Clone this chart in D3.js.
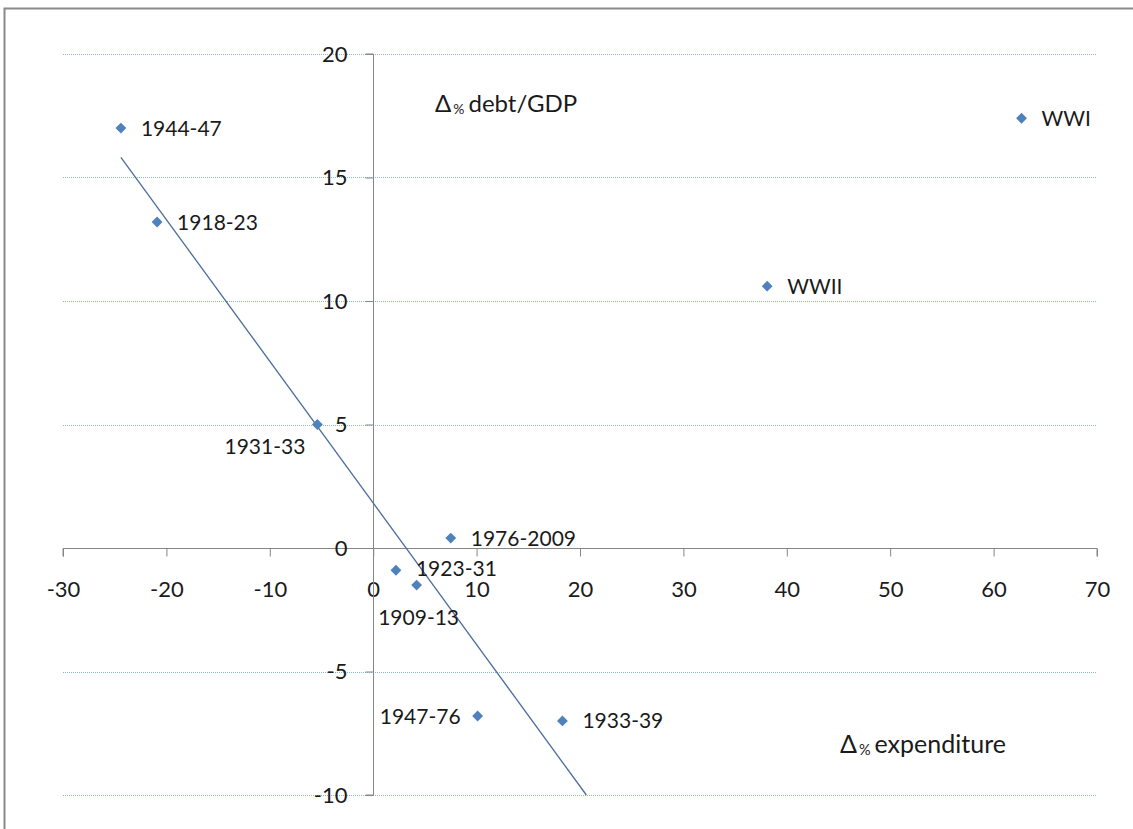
<!DOCTYPE html>
<html>
<head>
<meta charset="utf-8">
<script src="https://cdn.jsdelivr.net/npm/d3@7"></script>
<style>
  html, body { margin: 0; padding: 0; background: #fff; }
  svg { display: block; }
  text { font-family: Lato, "Open Sans", sans-serif; fill: #1a1a1a; }
</style>
</head>
<body>
<svg id="chart" width="1133" height="829"></svg>
<script>
// ---- data ----
const periods = ["1944-47", "1918-23", "1931-33", "1976-2009", "1923-31", "1909-13", "1947-76", "1933-39", "WWII", "WWI"];
const expenditureChange = [-24.4, -20.9, -5.4, 7.5, 2.2, 4.2, 10.1, 18.3, 38.1, 62.7];
const debtGdpChange = [17.0, 13.2, 5.0, 0.4, -0.9, -1.5, -6.8, -7.0, 10.6, 17.4];
const inTrend = [true, true, true, true, true, true, true, true, false, false];
const labelSide = ["right", "right", "belowLeft", "right", "rightUp", "below", "left", "right", "right", "right"];
const xTicks = [-30, -20, -10, 0, 10, 20, 30, 40, 50, 60, 70];
const yTicks = [-10, -5, 0, 5, 10, 15, 20];

// ---- layout ----
const svg = d3.select("#chart");
const x = d3.scaleLinear().domain([-30, 70]).range([63, 1097]);
const y = d3.scaleLinear().domain([-10, 20]).range([795, 54]);

// frame
svg.append("rect").attr("x", 4.5).attr("y", 8.5).attr("width", 1140).attr("height", 840)
  .attr("fill", "none").attr("stroke", "#8a8a8a").attr("stroke-width", 2);

// gridlines
svg.append("g").selectAll("line").data(yTicks.filter(d => d !== 0)).join("line")
  .attr("x1", x(-30)).attr("x2", x(70))
  .attr("y1", d => Math.round(y(d)) + 0.5).attr("y2", d => Math.round(y(d)) + 0.5)
  .attr("stroke", "#8db3e2").attr("stroke-width", 1).attr("stroke-dasharray", "1,1");

const fmt = d => String(d);

// x axis at y=0
const xAxis = d3.axisBottom(x).tickValues(xTicks).tickSize(8).tickPadding(31).tickFormat(fmt);
const gx = svg.append("g").attr("transform", `translate(0,${Math.round(y(0)) + 0.5})`).call(xAxis);
gx.select(".domain").attr("stroke", "#868686").attr("d", `M${x(-30)},8V0H${x(70)}V8`);
gx.selectAll(".tick line").attr("stroke", "#868686");
gx.selectAll(".tick text").attr("font-size", 22).attr("font-family", "Lato, sans-serif").attr("fill", "#1a1a1a").attr("dy", "0.45em");

// y axis at x=0
const yAxis = d3.axisLeft(y).tickValues(yTicks).tickSize(8).tickPadding(18).tickFormat(fmt);
const gy = svg.append("g").attr("transform", `translate(${Math.round(x(0)) + 0.5},0)`).call(yAxis);
gy.select(".domain").attr("stroke", "#868686").attr("d", `M-8,${y(20)}H0V${y(-10)}H-8`);
gy.selectAll(".tick line").attr("stroke", "#868686");
gy.selectAll(".tick text").attr("font-size", 22).attr("font-family", "Lato, sans-serif").attr("fill", "#1a1a1a");

// linear trend on peacetime/post-war periods
const pts = periods.map((p, i) => ({ p, x: expenditureChange[i], y: debtGdpChange[i], t: inTrend[i], side: labelSide[i] }));
const tp = pts.filter(d => d.t);
const mx = d3.mean(tp, d => d.x), my = d3.mean(tp, d => d.y);
const slope = d3.sum(tp, d => (d.x - mx) * (d.y - my)) / d3.sum(tp, d => (d.x - mx) ** 2);
const icpt = my - slope * mx;
const x0 = d3.min(tp, d => d.x);
const x1 = (-10 - icpt) / slope;
svg.append("line")
  .attr("x1", x(x0)).attr("y1", y(icpt + slope * x0))
  .attr("x2", x(x1)).attr("y2", y(icpt + slope * x1))
  .attr("stroke", "#4a6d9c").attr("stroke-width", 1.3);

// markers
const diamond = d3.symbol().type(d3.symbolDiamond2).size(75);
svg.append("g").selectAll("path").data(pts).join("path")
  .attr("d", diamond)
  .attr("transform", d => `translate(${x(d.x)},${y(d.y)})`)
  .attr("fill", "#4f81bd");

// point labels
svg.append("g").selectAll("text").data(pts).join("text")
  .attr("font-size", 21)
  .text(d => d.p)
  .attr("x", d => {
    const px = x(d.x);
    if (d.side === "right" || d.side === "rightUp") return px + 20;
    if (d.side === "left") return px - 17;
    if (d.side === "belowLeft") return px - 12;
    return px + 2;
  })
  .attr("y", d => {
    const py = y(d.y);
    if (d.side === "belowLeft") return py + 22;
    if (d.side === "below") return py + 32;
    if (d.side === "rightUp") return py - 2;
    return py;
  })
  .attr("dy", "0.36em")
  .attr("text-anchor", d => d.side === "left" || d.side === "belowLeft" ? "end" : (d.side === "below" ? "middle" : "start"));

// axis titles
function deltaTitle(tx, ty, word, size) {
  const t = svg.append("text").attr("x", tx).attr("y", ty).attr("font-size", size);
  t.append("tspan").text("Δ");
  t.append("tspan").attr("font-size", size * 0.58).attr("dy", 2).attr("dx", 2).text("%");
  t.append("tspan").attr("dy", -2).attr("dx", 4).text(word);
}
deltaTitle(435, 112, "debt/GDP", 24);
deltaTitle(840, 753, "expenditure", 25);
</script>
</body>
</html>
